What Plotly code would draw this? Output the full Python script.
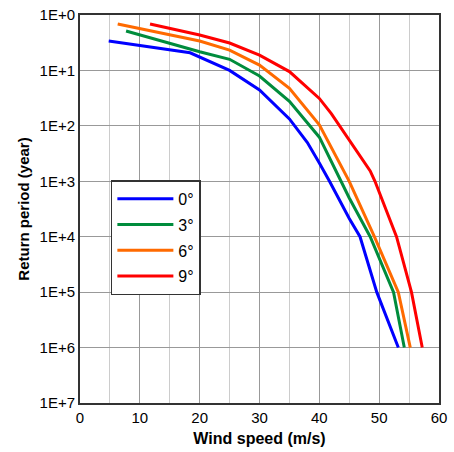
import plotly.graph_objects as go

# Data: wind speed (m/s) vs return period (years)
speed_0 = [4.8, 18.4, 25, 30, 35, 38, 40, 41.7, 45, 46.8, 49.6, 53.2]
period_0 = [2.94, 4.8, 10, 22.5, 75, 200, 470, 1000, 4700, 1e4, 1e5, 1e6]

speed_3 = [7.7, 20, 25, 30, 35, 40, 45, 48.5, 52.4, 54.2]
period_3 = [1.94, 4.6, 6.3, 12.6, 36, 160, 2000, 1e4, 1e5, 1e6]

speed_6 = [6.3, 20, 25, 30, 35, 40, 45, 49.2, 53.2, 55.2]
period_6 = [1.45, 2.94, 4.3, 8, 21, 96, 1000, 1e4, 1e5, 1e6]

speed_9 = [11.7, 20, 25, 30, 35, 40, 42, 45, 48.5, 49.3, 52.9, 55.4, 57.2]
period_9 = [1.45, 2.3, 3.2, 5.3, 10.5, 32, 60, 178, 650, 1000, 1e4, 1e5, 1e6]

series_names = ["0°", "3°", "6°", "9°"]
series_colors = ["#0000FF", "#008C3C", "#FF6A00", "#FF0000"]

y_tickvals = [1, 10, 100, 1000, 1e4, 1e5, 1e6, 1e7]
y_ticktext = ["1E+0", "1E+1", "1E+2", "1E+3", "1E+4", "1E+5", "1E+6", "1E+7"]

fig = go.Figure()
for name, color, xs, ys in zip(series_names, series_colors,
                               [speed_0, speed_3, speed_6, speed_9],
                               [period_0, period_3, period_6, period_9]):
    fig.add_trace(go.Scatter(x=xs, y=ys, mode="lines", name=name,
                             legendgroup=name,
                             line=dict(color=color, width=3)))

font = "Liberation Sans, Arial, sans-serif"
fig.update_layout(
    width=454, height=452,
    margin=dict(l=80, r=15, t=15, b=49),
    paper_bgcolor="white", plot_bgcolor="white",
    font=dict(family=font, size=14, color="black"),
    showlegend=True,
    legend=dict(x=0.086, y=0.574, xanchor="left", yanchor="top",
                bgcolor="white", bordercolor="#333333", borderwidth=1.5,
                font=dict(size=16, family=font), itemwidth=56,
                tracegroupgap=2),
    xaxis=dict(range=[0, 60], dtick=10, showgrid=True, gridcolor="#999999",
               gridwidth=1, showline=True, linecolor="#333333", linewidth=2,
               mirror=True, ticks="", zeroline=False, automargin=False,
               minor=dict(dtick=5, showgrid=True, gridcolor="#CCCCCC", gridwidth=1),
               title=dict(text="<b>Wind speed (m/s)</b>", font=dict(size=16), standoff=8),
               tickfont=dict(size=15)),
    yaxis=dict(type="log", range=[7, 0], tickvals=y_tickvals, ticktext=y_ticktext,
               showgrid=True, gridcolor="#999999", gridwidth=1,
               showline=True, linecolor="#333333", linewidth=2, mirror=True,
               ticks="", zeroline=False, automargin=False,
               title=dict(text="<b>Return period (year)</b>", font=dict(size=15), standoff=6),
               tickfont=dict(size=15)),
)

fig.write_html("out.html", config={"displayModeBar": False},
               post_script="document.body.style.margin='0';")
